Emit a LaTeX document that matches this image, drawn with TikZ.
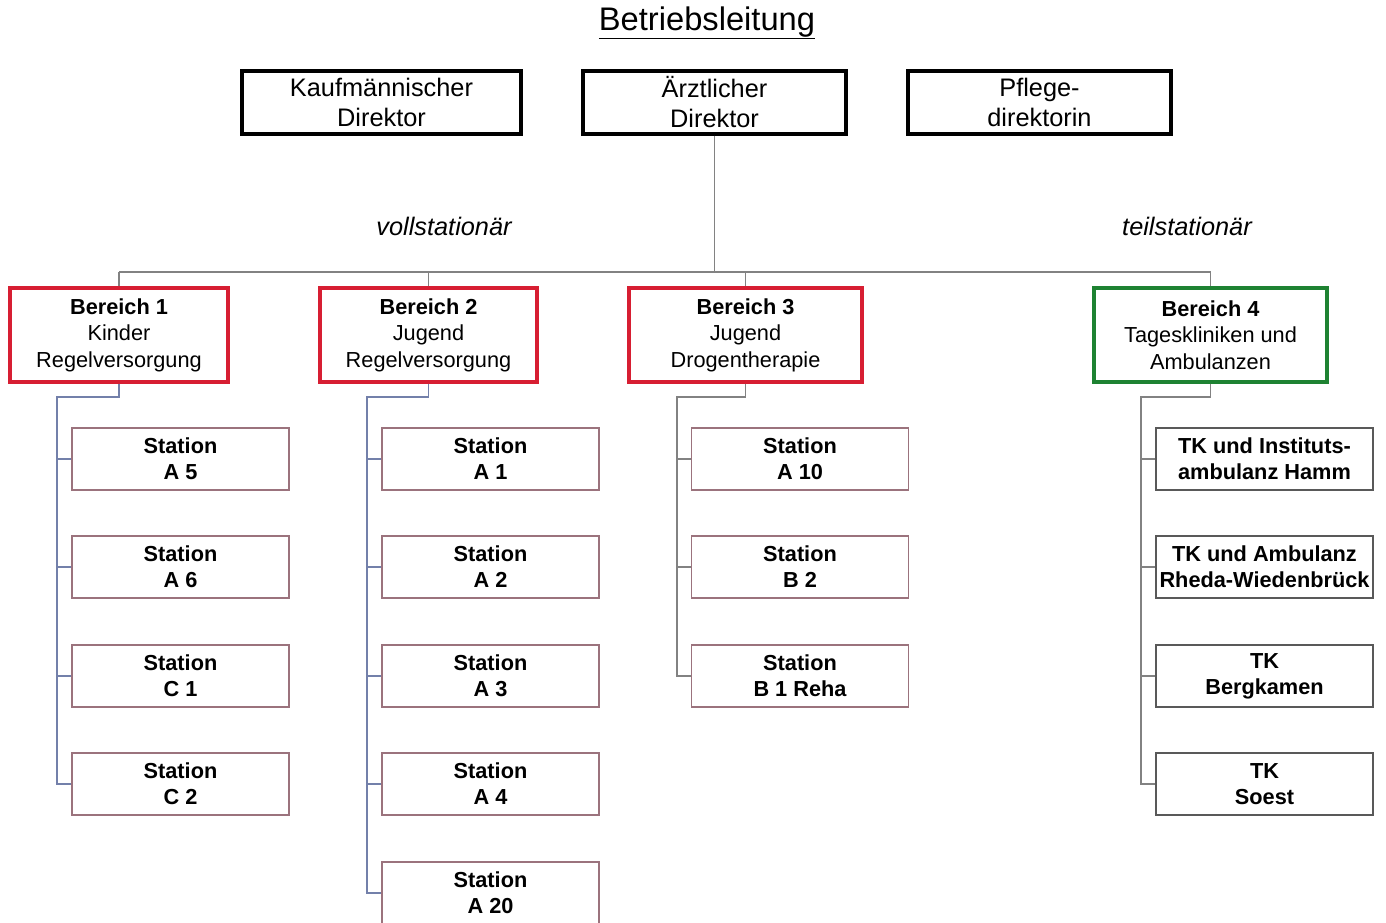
\documentclass[tikz,border=0pt]{standalone}
\usepackage{fontspec}
\setmainfont{Liberation Sans}
\newdimen\px \px=0.75pt
\definecolor{bred}{RGB}{215,30,50}
\definecolor{bgreen}{RGB}{30,130,50}
\definecolor{stc}{RGB}{155,115,125}
\definecolor{conng}{RGB}{130,130,130}
\definecolor{connb}{RGB}{115,128,170}
\begin{document}
\begin{tikzpicture}[x=0.75pt,y=-0.75pt,
  topbox/.style={draw=black, line width=2.6pt, minimum height=63\px, inner sep=0pt, align=center,
    font=\fontsize{19}{22.5}\selectfont},
  areabox/.style={draw=bred, line width=2.6pt, minimum height=94\px, inner sep=0pt, align=center,
    font=\fontsize{16.3}{19.8}\selectfont},
  stbox/.style={draw=stc, line width=1pt, minimum width=217\px, minimum height=62\px, inner sep=0pt,
    align=center, font=\fontsize{16.3}{19.5}\selectfont\bfseries},
  conn/.style={draw=conng, line width=0.8pt},
  connblue/.style={draw=connb, line width=0.8pt},
  lbl/.style={font=\fontsize{19}{22}\selectfont\itshape}]
\fill[white] (0,0) rectangle (1386,923);
\useasboundingbox (0,0) rectangle (1386,923);

\node (title) at (707,23) {\fontsize{24.5}{28}\selectfont\underline{Betriebsleitung}};

\node[topbox, minimum width=279\px] (kd) at (381.5,102.5) {Kaufmännischer\\Direktor};
\node[topbox, minimum width=263\px] (ad) at (714.5,102.5) {Ärztlicher\\Direktor};
\node[topbox, minimum width=263\px] (pd) at (1039.5,102.5) {Pflege-\\direktorin};

\node[lbl] (voll) at (444,226) {vollstationär};
\node[lbl] (teil) at (1187,226) {teilstationär};

\node[areabox, minimum width=218\px] (b1) at (119,335) {\textbf{Bereich 1}\\Kinder\\Regelversorgung};
\node[areabox, minimum width=217\px] (b2) at (428.5,335) {\textbf{Bereich 2}\\Jugend\\Regelversorgung};
\node[areabox, minimum width=233\px] (b3) at (745.5,335) {\textbf{Bereich 3}\\Jugend\\Drogentherapie};
\node[areabox, draw=bgreen, minimum width=233\px] (b4) at (1210.5,335) {\textbf{Bereich 4}\\Tageskliniken und\\Ambulanzen};

% stations
\node[stbox] (s11) at (180.5,459) {Station\\A 5};
\node[stbox] (s12) at (180.5,567) {Station\\A 6};
\node[stbox] (s13) at (180.5,676) {Station\\C 1};
\node[stbox] (s14) at (180.5,784) {Station\\C 2};

\node[stbox] (s21) at (490.5,459) {Station\\A 1};
\node[stbox] (s22) at (490.5,567) {Station\\A 2};
\node[stbox] (s23) at (490.5,676) {Station\\A 3};
\node[stbox] (s24) at (490.5,784) {Station\\A 4};
\node[stbox] (s25) at (490.5,893) {Station\\A 20};

\node[stbox] (s31) at (800,459) {Station\\A 10};
\node[stbox] (s32) at (800,567) {Station\\B 2};
\node[stbox] (s33) at (800,676) {Station\\B 1 Reha};

\node[stbox, draw=black!65] (s41) at (1264.5,459) {TK und Instituts-\\ambulanz Hamm};
\node[stbox, draw=black!65] (s42) at (1264.5,567) {TK und Ambulanz\\Rheda-Wiedenbrück};
\node[stbox, draw=black!65] (s43) at (1264.5,676) {TK\\Bergkamen};
\node[stbox, draw=black!65] (s44) at (1264.5,784) {TK\\Soest};

% top connectors
\coordinate (hl) at (118,272);
\draw[conn] (ad.south) -- (ad.south |- hl);
\draw[conn] (b1.north |- hl) -- (b4.north |- hl);
\draw[conn] (b1.north |- hl) -- (b1.north);
\draw[conn] (b2.north |- hl) -- (b2.north);
\draw[conn] (b3.north |- hl) -- (b3.north);
\draw[conn] (b4.north |- hl) -- (b4.north);

% brackets
\coordinate (k1) at (57,397);
\coordinate (k2) at (367,397);
\coordinate (k3) at (677,397);
\coordinate (k4) at (1141,397);

\draw[connblue] (b1.south) -- (b1.south |- k1) -- (k1) -- (k1 |- s14.west) -- (s14.west);
\foreach \s in {s11,s12,s13} \draw[connblue] (k1 |- \s.west) -- (\s.west);

\draw[connblue] (b2.south) -- (b2.south |- k2) -- (k2) -- (k2 |- s25.west) -- (s25.west);
\foreach \s in {s21,s22,s23,s24} \draw[connblue] (k2 |- \s.west) -- (\s.west);

\draw[conn] (b3.south) -- (b3.south |- k3) -- (k3) -- (k3 |- s33.west) -- (s33.west);
\foreach \s in {s31,s32} \draw[conn] (k3 |- \s.west) -- (\s.west);

\draw[conn] (b4.south) -- (b4.south |- k4) -- (k4) -- (k4 |- s44.west) -- (s44.west);
\foreach \s in {s41,s42,s43} \draw[conn] (k4 |- \s.west) -- (\s.west);
\end{tikzpicture}
\end{document}
